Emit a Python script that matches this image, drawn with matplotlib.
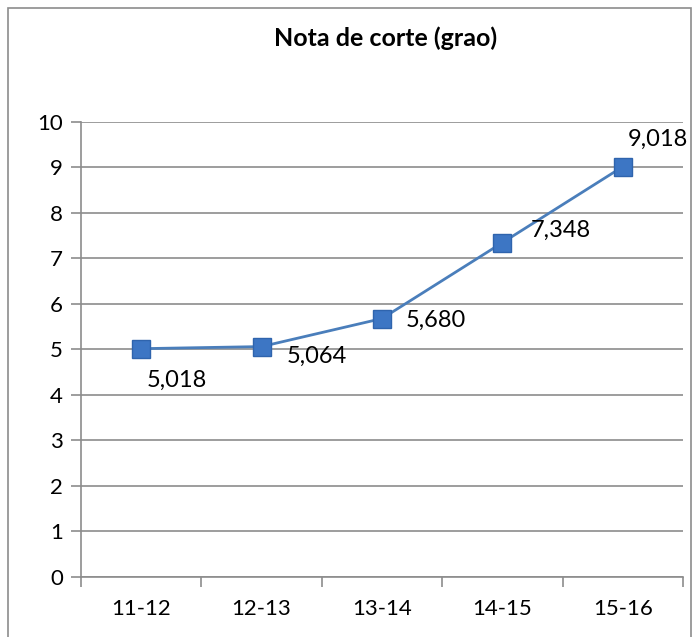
import matplotlib.pyplot as plt
from matplotlib.patches import Rectangle

temporadas = ["11-12", "12-13", "13-14", "14-15", "15-16"]
nota_corte = [5.018, 5.064, 5.680, 7.348, 9.018]
rotulos = ["5,018", "5,064", "5,680", "7,348", "9,018"]
# deslocamento dos rotulos (pontos)
desloc = [(26, -23), (40, -7), (39, -1), (42, 9), (25, 20)]

plt.rcParams["font.family"] = ["Lato", "DejaVu Sans"]

fig = plt.figure(figsize=(6.98, 6.37), dpi=100)
ax = fig.add_axes([0.116, 0.0942, 0.8625, 0.7143])

fig.patches.append(Rectangle((8 / 698, -0.1), 683 / 698, 1.1 - 8 / 637,
                             transform=fig.transFigure, fill=False,
                             edgecolor="#8c8c8c", linewidth=1.2))

x = range(len(temporadas))
ax.plot(x, nota_corte, color="#4a7ebb", linewidth=2, marker="s",
        markersize=13, markerfacecolor="#3d76c4", markeredgecolor="#2f64ad",
        zorder=3)

for i, (v, r) in enumerate(zip(nota_corte, rotulos)):
    ax.annotate(r, (i, v), xytext=desloc[i], textcoords="offset points",
                ha="center", va="center", fontsize=17, color="black")

ax.set_xlim(-0.5, len(temporadas) - 0.5)
ax.set_ylim(0, 10)
ax.set_yticks(range(0, 11))
ax.yaxis.grid(True, color="#8c8c8c", linewidth=1.2)
ax.set_axisbelow(True)

ax.set_xticks(x)
ax.set_xticklabels(temporadas, fontsize=16)
ax.set_xticks([i - 0.5 for i in range(len(temporadas) + 1)], minor=True)
ax.tick_params(axis="x", which="major", length=0, pad=16)
ax.tick_params(axis="x", which="minor", length=7, color="#8c8c8c", width=1.2)
ax.tick_params(axis="y", length=7, color="#8c8c8c", width=1.2, labelsize=16, pad=6)

for s in ["top", "right"]:
    ax.spines[s].set_visible(False)
for s in ["left", "bottom"]:
    ax.spines[s].set_color("#8c8c8c")
    ax.spines[s].set_linewidth(1.2)

fig.text(386 / 698, 1 - 38 / 637, "Nota de corte (grao)", ha="center",
         va="center", fontsize=18, fontweight="bold")

fig.savefig("out.png", dpi=100)
